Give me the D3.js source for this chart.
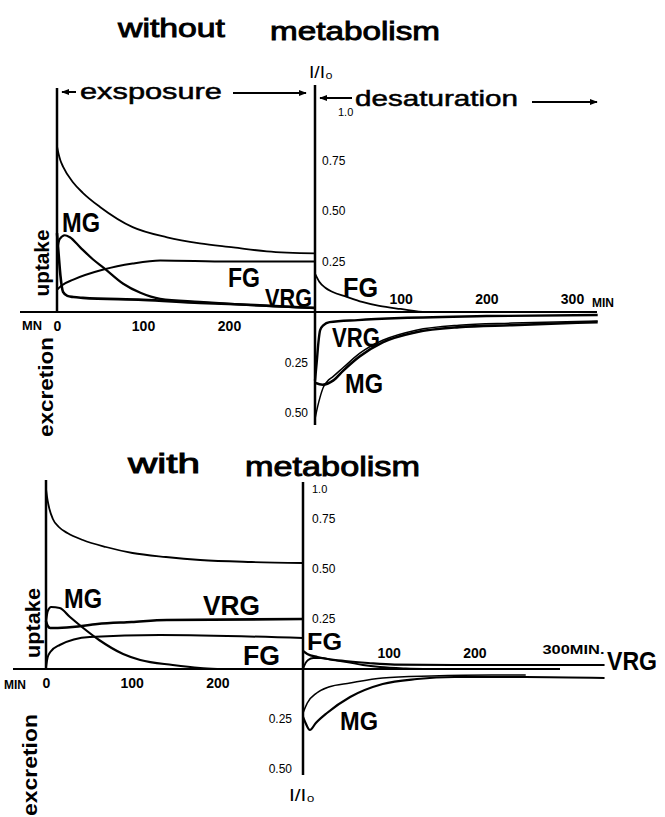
<!doctype html>
<html lang="en">
<head>
    <meta charset="UTF-8">
    <title>Uptake and desaturation, with and without metabolism</title>
    <script type="text/javascript" src="https://cdn.jsdelivr.net/npm/d3@7"></script>
    <style type="text/css">
        body { margin: 0; background: #fff; }
        svg { display: block; background: #fff; }
        text { font-family: "Liberation Sans", Arial, sans-serif; fill: #000; }
    </style>
</head>
<body>
<script type="text/javascript">
    var width = 665;
    var height = 817;

    // ---- without metabolism : exposure (t in min, value I/I0) ----
    var topExpTotal = [[0, 0.82], [2, 0.78], [4, 0.75], [7, 0.72], [19, 0.64], [30, 0.59], [50, 0.52], [88, 0.42], [128, 0.37], [166, 0.34], [205, 0.32], [244, 0.30], [300, 0.29]];
    var topExpFG = [[0, 0.11], [5, 0.13], [19, 0.16], [54, 0.21], [88, 0.24], [120, 0.255], [200, 0.25], [300, 0.25]];
    var topExpMG = [[0, 0.30], [3, 0.36], [9, 0.38], [15, 0.37], [27, 0.32], [42, 0.26], [54, 0.22], [77, 0.14], [97, 0.095], [120, 0.065], [166, 0.05], [220, 0.035], [300, 0.02]];
    var topExpVRG = [[0, 0.39], [2, 0.28], [4, 0.18], [7, 0.10], [12, 0.08], [19, 0.074], [30, 0.07], [100, 0.06], [166, 0.045], [230, 0.035], [300, 0.02]];
    // ---- without metabolism : desaturation ----
    var topDesFG = [[0, 0.19], [5, 0.15], [12, 0.12], [20, 0.10], [37, 0.075], [55, 0.05], [75, 0.03], [100, 0.015], [130, 0], [140, 0]];
    var topDesVRG = [[0, -0.34], [2, -0.25], [4, -0.15], [6, -0.09], [10, -0.065], [17, -0.05], [50, -0.04], [100, -0.03], [200, -0.02], [330, -0.015]];
    var topDesMG = [[0, -0.35], [9, -0.36], [21, -0.34], [33, -0.29], [52, -0.22], [79, -0.15], [118, -0.10], [168, -0.075], [230, -0.065], [330, -0.05]];
    var topDesTotal = [[0, -0.53], [3, -0.47], [6, -0.42], [10, -0.37], [14, -0.345], [21, -0.32], [33, -0.275], [52, -0.205], [79, -0.14], [118, -0.09], [168, -0.065], [230, -0.055], [330, -0.045]];

    // ---- with metabolism : exposure ----
    var botExpTotal = [[0, 0.9], [2, 0.84], [4, 0.8], [8, 0.75], [15, 0.71], [25, 0.68], [43, 0.645], [70, 0.61], [101, 0.58], [140, 0.56], [180, 0.545], [240, 0.535], [300, 0.53]];
    var botExpVRG = [[0, 0.24], [2, 0.215], [5, 0.205], [10, 0.205], [31, 0.21], [60, 0.225], [100, 0.235], [141, 0.245], [300, 0.25]];
    var botExpMG = [[0, 0.24], [2, 0.29], [6, 0.31], [16, 0.305], [28, 0.26], [42, 0.21], [62, 0.145], [90, 0.075], [110, 0.045], [148, 0.02], [180, 0.005], [200, 0]];
    var botExpFG = [[0, 0.01], [2, 0.06], [5, 0.085], [16, 0.12], [51, 0.16], [133, 0.17], [300, 0.155]];
    // ---- with metabolism : desaturation ----
    var botDesVRG = [[0, 0.09], [5, 0.075], [17, 0.06], [29, 0.05], [49, 0.04], [76, 0.03], [107, 0.022], [177, 0.02], [352, 0.02]];
    var botDesFG = [[0, 0], [3, 0.03], [6, 0.045], [12, 0.055], [20, 0.055], [35, 0.045], [51, 0.035], [70, 0.02], [90, 0.01], [120, 0.003], [150, 0]];
    var botDesMG = [[0, -0.24], [3, -0.27], [8, -0.305], [15, -0.27], [28, -0.22], [55, -0.14], [93, -0.075], [133, -0.05], [177, -0.04], [260, -0.04], [352, -0.045]];
    var botDesTotal = [[0, -0.22], [5, -0.17], [16, -0.12], [30, -0.09], [55, -0.07], [93, -0.045], [150, -0.035], [220, -0.03], [260, -0.03]];

    // tick labels
    var yTicksUp = [0.25, 0.5, 0.75, 1.0];
    var yTicksDown = [-0.25, -0.5];
    var expTicks = [0, 100, 200];
    var desTicks = [100, 200, 300];

    var svg = d3.select("body").append("svg").attr("width", width).attr("height", height);

    // scales, one set per panel
    var xTL = d3.scaleLinear().domain([0, 300]).range([57, 315]);
    var xTR = d3.scaleLinear().domain([0, 300]).range([315, 572]);
    var yT = d3.scaleLinear().domain([-0.5, 1]).range([413, 110]);
    var xBL = d3.scaleLinear().domain([0, 300]).range([46, 303]);
    var xBR = d3.scaleLinear().domain([0, 300]).range([303, 560]);
    var yB = d3.scaleLinear().domain([-0.5, 1]).range([769, 469]);

    function curve(data, xs, ys, w) {
        var line = d3.line()
            .x(function (d) { return xs(d[0]); })
            .y(function (d) { return ys(d[1]); })
            .curve(d3.curveMonotoneX);
        svg.append("path").datum(data)
            .attr("d", line)
            .attr("fill", "none")
            .attr("stroke", "#000")
            .attr("stroke-width", w)
            .attr("stroke-linejoin", "round");
    }

    function rule(x1, y1, x2, y2, w) {
        svg.append("line")
            .attr("x1", x1).attr("y1", y1).attr("x2", x2).attr("y2", y2)
            .attr("stroke", "#000").attr("stroke-width", w || 2.5);
    }

    function label(txt, x, y, size, len, weight) {
        var t = svg.append("text").text(txt)
            .attr("x", x).attr("y", y)
            .attr("font-size", size)
            .attr("font-weight", weight || "bold");
        if (len) t.attr("textLength", len).attr("lengthAdjust", "spacingAndGlyphs");
        return t;
    }

    // hand lettered titles: regular face with a thin outline to thicken it
    function title(txt, x, y, size, len) {
        return label(txt, x, y, size, len, "normal")
            .attr("font-family", "DejaVu Sans")
            .attr("stroke", "#000").attr("stroke-width", 0.9);
    }

    function vlabel(txt, x, y, size, len) {
        svg.append("text").text(txt)
            .attr("transform", "translate(" + x + "," + y + ") rotate(-90)")
            .attr("text-anchor", "middle")
            .attr("font-size", size)
            .attr("font-weight", "bold")
            .attr("textLength", len).attr("lengthAdjust", "spacingAndGlyphs");
    }

    function yFmt(d) {
        return d === 1 ? "1.0" : d3.format(".2f")(Math.abs(d));
    }

    function styleAxis(g, size, weight) {
        g.select(".domain").remove();
        g.selectAll("text")
            .attr("font-family", "Liberation Sans, Arial, sans-serif")
            .attr("font-size", size)
            .attr("font-weight", weight)
            .attr("fill", "#000");
    }

    // arrow heads
    var defs = svg.append("defs");
    defs.append("marker").attr("id", "arr")
        .attr("viewBox", "0 0 10 10").attr("refX", 9).attr("refY", 5)
        .attr("markerWidth", 4).attr("markerHeight", 4).attr("orient", "auto-start-reverse")
        .append("path").attr("d", "M0,1 L10,5 L0,9 Z").attr("fill", "#000");

    function arrow(x1, y1, x2, y2) {
        svg.append("line")
            .attr("x1", x1).attr("y1", y1).attr("x2", x2).attr("y2", y2)
            .attr("stroke", "#000").attr("stroke-width", 2)
            .attr("marker-end", "url(#arr)");
    }

    // ================= without metabolism =================
    title("without", 118, 37, 26, 107);
    title("metabolism", 270, 40, 26, 170);

    rule(xTL(0), 88, xTL(0), yT(0));
    rule(xTR(0), 85, xTR(0), 425);
    rule(20, yT(0), 597, yT(0), 2.2);

    arrow(76, 92, 62, 92);
    title("exsposure", 80, 99, 22, 142).attr("stroke-width", 0.5);
    arrow(233, 93, 306, 93);
    arrow(352, 98, 320, 98);
    title("desaturation", 355, 106, 22, 163).attr("stroke-width", 0.5);
    arrow(532, 102, 597, 102);
    label("I/I\u2080", 309, 78, 16, 24, "normal");

    curve(topExpTotal, xTL, yT, 1.8);
    curve(topExpFG, xTL, yT, 2);
    curve(topExpMG, xTL, yT, 2.2);
    curve(topExpVRG, xTL, yT, 2.6);
    curve(topDesFG, xTR, yT, 1.8);
    curve(topDesTotal, xTR, yT, 1.5);
    curve(topDesMG, xTR, yT, 2.6);
    curve(topDesVRG, xTR, yT, 2.4);

    var gTy = svg.append("g").attr("transform", "translate(" + (xTR(0) + 4) + ",0)")
        .call(d3.axisRight(yT).tickValues(yTicksUp).tickSize(0).tickFormat(yFmt));
    styleAxis(gTy, 12, "normal");
    gTy.selectAll("text").filter(function (d) { return d === 1; })
        .attr("dx", 16).attr("dy", "0.5em").attr("font-size", 11);
    var gTy2 = svg.append("g").attr("transform", "translate(" + (xTR(0) - 4) + ",0)")
        .call(d3.axisLeft(yT).tickValues(yTicksDown).tickSize(0).tickFormat(yFmt));
    styleAxis(gTy2, 12, "normal");

    var gTx = svg.append("g").attr("transform", "translate(0," + yT(0) + ")")
        .call(d3.axisBottom(xTL).tickValues(expTicks).tickSize(0).tickPadding(9));
    styleAxis(gTx, 14, "bold");
    label("MN", 22, 330, 12, 20);
    var gTx2 = svg.append("g").attr("transform", "translate(0," + (yT(0) - 2) + ")")
        .call(d3.axisTop(xTR).tickValues(desTicks).tickSize(0).tickPadding(6));
    styleAxis(gTx2, 14, "bold");
    label("MIN", 592, 307, 13, 22);

    label("MG", 62, 232, 27, 38);
    label("FG", 228, 287, 28, 32);
    label("VRG", 265, 307, 26, 47);
    label("FG", 343, 297, 28, 35);
    label("VRG", 332, 347, 27, 48);
    label("MG", 345, 393, 27, 38);
    vlabel("uptake", 49, 263, 20, 67);
    vlabel("excretion", 53, 387, 21, 100);

    // ================= with metabolism =================
    title("with", 128, 473, 27, 72);
    title("metabolism", 245, 476, 27, 175);

    rule(xBL(0), 480, xBL(0), yB(0));
    rule(xBR(0), 482, xBR(0), 775);
    rule(13, yB(0), 560, yB(0), 2.2);

    curve(botExpTotal, xBL, yB, 1.8);
    curve(botExpFG, xBL, yB, 2);
    curve(botExpMG, xBL, yB, 2.2);
    curve(botExpVRG, xBL, yB, 2.6);
    curve(botDesVRG, xBR, yB, 2.2);
    curve(botDesFG, xBR, yB, 1.8);
    curve(botDesTotal, xBR, yB, 1.6);
    curve(botDesMG, xBR, yB, 2.2);

    var gBy = svg.append("g").attr("transform", "translate(" + (xBR(0) + 6) + ",0)")
        .call(d3.axisRight(yB).tickValues(yTicksUp).tickSize(0).tickFormat(yFmt));
    styleAxis(gBy, 12, "normal");
    gBy.selectAll("text").filter(function (d) { return d === 1; })
        .attr("dy", "2.1em").attr("font-size", 11);
    var gBy2 = svg.append("g").attr("transform", "translate(" + (xBR(0) - 8) + ",0)")
        .call(d3.axisLeft(yB).tickValues(yTicksDown).tickSize(0).tickFormat(yFmt));
    styleAxis(gBy2, 12, "normal");

    var gBx = svg.append("g").attr("transform", "translate(0," + yB(0) + ")")
        .call(d3.axisBottom(xBL).tickValues(expTicks).tickSize(0).tickPadding(9));
    styleAxis(gBx, 14, "bold");
    label("MIN", 4, 689, 12, 22);
    var gBx2 = svg.append("g").attr("transform", "translate(0," + (yB(0) - 5) + ")")
        .call(d3.axisTop(xBR).tickValues(desTicks).tickSize(0).tickPadding(6)
            .tickFormat(function (d) { return d === 300 ? "300MIN." : d; }));
    styleAxis(gBx2, 14, "bold");
    gBx2.selectAll("text").filter(function (d) { return d === 300; })
        .attr("text-anchor", "start").attr("dx", -18).attr("dy", -4)
        .attr("font-size", 13).attr("textLength", 62).attr("lengthAdjust", "spacingAndGlyphs");

    label("MG", 64, 608, 27, 38);
    label("VRG", 203, 615, 27, 57);
    label("FG", 243, 665, 27, 37);
    label("FG", 307, 650, 24, 35);
    label("VRG", 607, 670, 26, 50);
    label("MG", 340, 730, 25, 38);
    label("I/I\u2080", 289, 801, 16, 26, "normal");
    vlabel("uptake", 40, 623, 20, 70);
    vlabel("excretion", 37, 765, 21, 102);
</script>
</body>
</html>
